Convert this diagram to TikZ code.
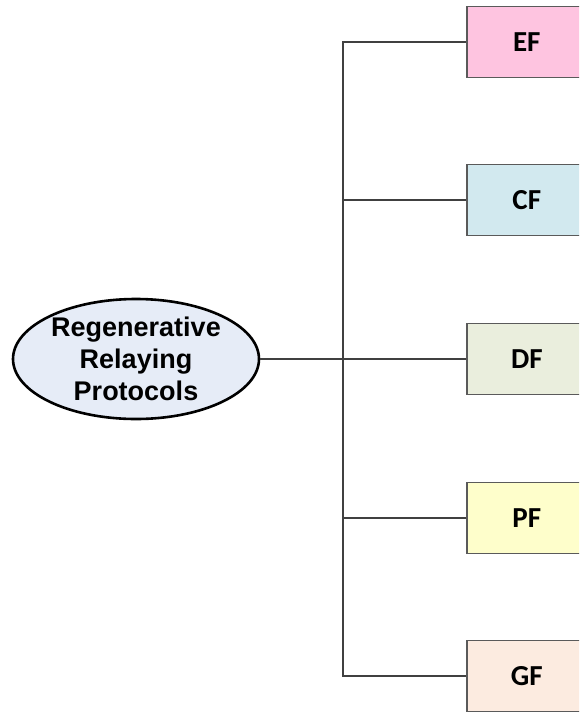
\documentclass[tikz,border=0pt]{standalone}
\usepackage{fontspec}
\setmainfont{Liberation Sans}
\newfontfamily\boxfont{Carlito}
\usetikzlibrary{shapes.geometric}
\definecolor{efc}{HTML}{FEC4E0}
\definecolor{cfc}{HTML}{D2E9EF}
\definecolor{dfc}{HTML}{EAEEDD}
\definecolor{pfc}{HTML}{FEFECB}
\definecolor{gfc}{HTML}{FCEBE0}
\definecolor{ellc}{HTML}{E6ECF7}
\definecolor{linec}{HTML}{404040}
\definecolor{boxline}{HTML}{5A5A5A}
\begin{document}
\begin{tikzpicture}[x=1pt,y=-1pt,
  fbox/.style={draw=boxline,line width=1.6pt,minimum width=120pt,minimum height=71pt,inner sep=0pt,
    font=\boxfont\bfseries\fontsize{29}{32}\selectfont},
  conn/.style={draw=linec,line width=1.3pt}]
\useasboundingbox (0,0) rectangle (579,713);
\begin{scope}
\clip (0,0) rectangle (579,713);
\node[ellipse,draw=black,line width=2.6pt,fill=ellc,minimum width=246pt,minimum height=120pt,inner sep=0pt,
  align=center,font=\bfseries\fontsize{27}{32}\selectfont] (root) at (136,359) {Regenerative\\Relaying\\Protocols};
\coordinate (j) at (343,359);
\node[fbox,fill=efc,anchor=west] (ef) at (466,42) {EF};
\node[fbox,fill=cfc,anchor=west] (cf) at (466,200) {CF};
\node[fbox,fill=dfc,anchor=west] (df) at (466,359) {DF};
\node[fbox,fill=pfc,anchor=west] (pf) at (466,518) {PF};
\node[fbox,fill=gfc,anchor=west] (gf) at (466,676) {GF};
\draw[conn] (root.east) -- (df.west);
\draw[conn] (ef.west) -| (j) |- (gf.west);
\draw[conn] (cf.west) -- (cf.west -| j);
\draw[conn] (pf.west) -- (pf.west -| j);
\end{scope}
\end{tikzpicture}
\end{document}
